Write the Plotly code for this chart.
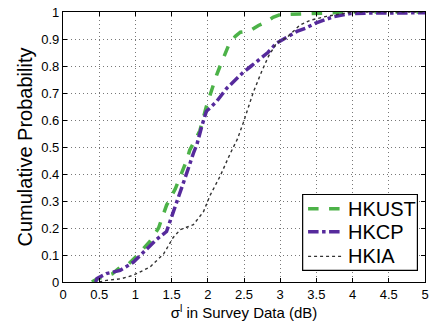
import plotly.graph_objects as go

# HKUST
hkust_x = [0.40, 0.46, 0.56, 0.68, 0.79, 0.90, 1.02, 1.10, 1.20, 1.32, 1.43, 1.55, 1.64, 1.71, 1.75, 1.89, 1.98, 2.05, 2.12, 2.17, 2.24, 2.30, 2.38, 2.45, 2.58, 2.70, 2.81, 2.90, 3.00, 3.40, 3.87, 4.00, 5.00]
hkust_y = [0.000, 0.010, 0.019, 0.030, 0.055, 0.065, 0.097, 0.120, 0.150, 0.200, 0.284, 0.344, 0.404, 0.452, 0.488, 0.560, 0.650, 0.710, 0.765, 0.800, 0.849, 0.885, 0.910, 0.925, 0.930, 0.950, 0.964, 0.980, 0.990, 0.994, 0.996, 1.000, 1.000]

# HKCP
hkcp_x = [0.45, 0.47, 0.60, 0.79, 0.97, 1.11, 1.29, 1.43, 1.52, 1.62, 1.71, 1.80, 1.85, 1.92, 1.98, 2.03, 2.12, 2.26, 2.42, 2.49, 2.60, 2.72, 2.83, 2.95, 3.10, 3.23, 3.35, 3.50, 3.73, 3.96, 4.20, 5.00]
hkcp_y = [0.000, 0.013, 0.031, 0.043, 0.073, 0.109, 0.157, 0.187, 0.260, 0.332, 0.404, 0.476, 0.510, 0.580, 0.632, 0.645, 0.668, 0.717, 0.759, 0.777, 0.800, 0.825, 0.850, 0.885, 0.910, 0.928, 0.940, 0.960, 0.982, 0.994, 0.996, 0.997]

# HKIA
hkia_x = [0.50, 0.60, 0.80, 0.97, 1.20, 1.39, 1.52, 1.62, 1.80, 1.94, 2.03, 2.17, 2.31, 2.41, 2.49, 2.54, 2.63, 2.74, 2.84, 2.95, 3.09, 3.27, 3.41, 3.64, 3.87, 4.00, 5.00]
hkia_y = [0.000, 0.006, 0.012, 0.025, 0.055, 0.104, 0.164, 0.194, 0.212, 0.260, 0.320, 0.392, 0.476, 0.530, 0.590, 0.633, 0.704, 0.777, 0.837, 0.885, 0.905, 0.951, 0.969, 0.984, 0.994, 1.000, 1.000]

series_names = ["HKUST", "HKCP", "HKIA"]
x_ticks = [0, 0.5, 1, 1.5, 2, 2.5, 3, 3.5, 4, 4.5, 5]
y_ticks = [0, 0.1, 0.2, 0.3, 0.4, 0.5, 0.6, 0.7, 0.8, 0.9, 1]

FONT = "Liberation Sans, Arial, Helvetica, sans-serif"

styles = [
    dict(color="rgb(76,178,72)", width=3.5, dash="dash"),
    dict(color="rgb(86,42,156)", width=3.5, dash="dashdot"),
    dict(color="rgb(50,50,50)", width=1.4, dash="dot"),
]
data = [(hkust_x, hkust_y), (hkcp_x, hkcp_y), (hkia_x, hkia_y)]

fig = go.Figure()
for (xs, ys), name, st in zip(data, series_names, styles):
    fig.add_trace(go.Scatter(x=xs, y=ys, mode="lines", name=name, line=st, showlegend=False))

axis_common = dict(showline=True, linecolor="black", linewidth=1.2, mirror="ticks",
                   ticks="inside", ticklen=4, tickcolor="black",
                   showgrid=True, gridcolor="rgb(120,120,120)", griddash="1px,3px", gridwidth=1,
                   zeroline=False, ticklabeloverflow="allow",
                   tickfont=dict(family=FONT, size=13, color="black"))

fig.update_xaxes(range=[0, 5], tickvals=x_ticks, ticktext=[f"{v:g}" for v in x_ticks],
                 title=dict(text="σ<sup>l</sup> in Survey Data (dB)", font=dict(family=FONT, size=15, color="black"), standoff=6),
                 **axis_common)
fig.update_yaxes(range=[0, 1], tickvals=y_ticks, ticktext=[f"{v:g}" for v in y_ticks],
                 title=dict(text="Cumulative Probability", font=dict(family=FONT, size=20, color="black"), standoff=3),
                 **axis_common)

# Legend box (drawn in paper coordinates to match the compact MATLAB legend)
lx0, lx1, ly0, ly1 = 0.662, 0.979, 0.043, 0.324
fig.add_shape(type="rect", xref="paper", yref="paper", x0=lx0, x1=lx1, y0=ly0, y1=ly1,
              line=dict(color="black", width=1.2), fillcolor="white", layer="above")
item_y = [0.271, 0.186, 0.095]
for name, st, yy in zip(series_names, styles, item_y):
    fig.add_shape(type="line", xref="paper", yref="paper", x0=0.677, x1=0.773, y0=yy, y1=yy,
                  line=st, layer="above")
    fig.add_annotation(xref="paper", yref="paper", x=0.782, y=yy, text=name, showarrow=False,
                       xanchor="left", yanchor="middle",
                       font=dict(family=FONT, size=20, color="black"))

fig.update_layout(
    width=441, height=326,
    margin=dict(l=63, r=16, t=5, b=44),
    plot_bgcolor="white", paper_bgcolor="white",
    showlegend=False,
)

fig.write_html("out.html")
